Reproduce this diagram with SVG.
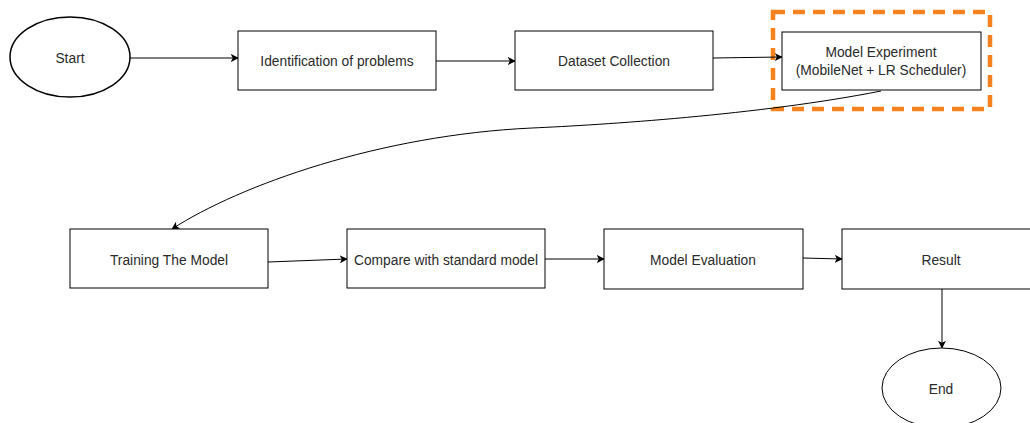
<svg xmlns="http://www.w3.org/2000/svg" width="1030" height="423" viewBox="0 0 1030 423">
<defs>
<marker id="arr" viewBox="0 0 10 10" refX="9" refY="5" markerWidth="8" markerHeight="8" markerUnits="userSpaceOnUse" orient="auto">
<path d="M0,0 L10,5 L0,10 L2.5,5 Z" fill="#000"/>
</marker>
</defs>
<style>
.n{fill:#fff;stroke:#000;stroke-width:1}
.e{fill:#fff;stroke:#000;stroke-width:1.5}
.t{font-family:"Liberation Sans",Arial,sans-serif;font-size:13.8px;fill:#2a2a2a;text-anchor:middle;dominant-baseline:central}
.c{fill:none;stroke:#000;stroke-width:1;marker-end:url(#arr)}
</style>
<rect x="0" y="0" width="1030" height="423" fill="#fff"/>
<g id="highlight">
<rect x="773" y="12" width="217" height="97" fill="none" stroke="#f5821f" stroke-width="4.5" stroke-dasharray="12 8"/>
</g>
<g id="connectors">
<path class="c" d="M130,58 L238,58"/>
<path class="c" d="M436,61 L515,61"/>
<path class="c" d="M713,58 L782,57"/>
<path class="c" d="M881,91 C760,115 600,125 532,128 C380,135 240,185 172,229"/>
<path class="c" d="M268,262 L347,259"/>
<path class="c" d="M545,259 L604,259"/>
<path class="c" d="M803,258 L842,259"/>
<path class="c" d="M942,289 L942,348"/>
</g>
<g id="start"><ellipse class="e" cx="70" cy="57" rx="60" ry="40"/><text class="t" x="70" y="58">Start</text></g>
<g id="identification"><rect class="n" x="238" y="31" width="198" height="59"/><text class="t" x="337" y="61">Identification of problems</text></g>
<g id="dataset"><rect class="n" x="515" y="31" width="198" height="59"/><text class="t" x="614" y="61">Dataset Collection</text></g>
<g id="experiment"><rect class="n" x="782" y="32" width="199" height="58"/><text class="t" x="881" y="52">Model Experiment</text><text class="t" x="881" y="70">(MobileNet + LR Scheduler)</text></g>
<g id="training"><rect class="n" x="70" y="229" width="198" height="59"/><text class="t" x="169" y="260">Training The Model</text></g>
<g id="compare"><rect class="n" x="347" y="229" width="198" height="59"/><text class="t" x="446" y="260">Compare with standard model</text></g>
<g id="evaluation"><rect class="n" x="604" y="229" width="199" height="60"/><text class="t" x="703" y="260">Model Evaluation</text></g>
<g id="result"><rect class="n" x="842" y="229" width="198" height="60"/><text class="t" x="941" y="260">Result</text></g>
<g id="end"><ellipse class="n" cx="941.5" cy="388" rx="59.5" ry="40"/><text class="t" x="941" y="389">End</text></g>
</svg>
